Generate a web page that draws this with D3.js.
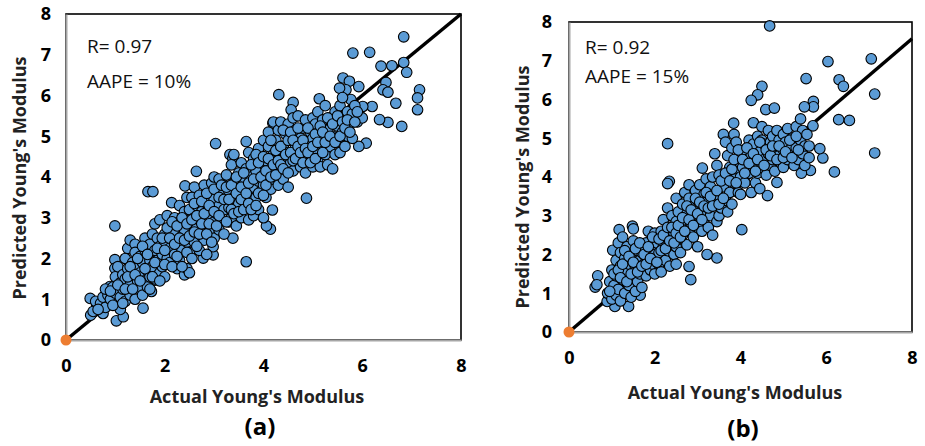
<!DOCTYPE html>
<html>
  <head>
    <meta charset="utf-8">
    <title>Young's Modulus</title>
    <script type="text/javascript" src="https://cdn.jsdelivr.net/npm/d3@7"></script>
    <style media="screen">
      body { margin: 0; background: #fff; }
      text { font-family: "Open Sans", "Noto Sans", sans-serif; }
      .tick-label { font-weight: bold; font-size: 18px; fill: #000; }
      .title { font-weight: bold; font-size: 18px; fill: #222; }
      .panel-label { font-weight: bold; font-size: 24px; fill: #000; }
      .note { font-size: 19px; fill: #111; }
    </style>
  </head>
  <body>

    <script type="text/javascript">

      var w = 925;
      var h = 446;

      var yTicks = [0, 1, 2, 3, 4, 5, 6, 7, 8];
      var xTicks = [0, 2, 4, 6, 8];
      var xTitle = "Actual Young's Modulus";
      var yTitle = "Predicted Young's Modulus";
      var panelNames = ["(a)", "(b)"];
      var rValues = ["R= 0.97", "R= 0.92"];
      var aapeValues = ["AAPE = 10%", "AAPE = 15%"];
      // slope of the black trend line in each panel
      var fitSlope = [1.0, 0.946];

      // panel (a): actual, predicted
      var pointsA = [
        [6.84,7.44],[5.81,7.04],[6.15,7.06],[6.38,6.72],[6.60,6.73],[6.84,6.81],[6.90,6.57],[7.16,6.14],[7.12,5.94],[7.12,5.65],
        [6.68,5.81],[6.80,5.24],[6.52,5.34],[6.35,5.41],[6.48,6.32],[6.42,6.14],[6.52,6.08],[5.93,6.22],[6.20,5.73],[6.01,5.73],
        [6.08,4.83],[5.93,4.75],[5.61,6.43],[5.74,6.35],[5.67,6.14],[5.77,5.90],[5.54,6.18],[5.13,5.92],[4.31,6.02],[4.60,5.83],
        [4.56,5.65],[3.03,4.82],[3.65,4.87],[4.19,5.32],[4.12,4.91],[4.87,3.48],[3.65,1.92],[2.64,4.14],[1.66,3.64],[1.76,3.64],
        [0.99,2.80],[2.14,3.37],[2.41,3.78],[4.14,2.72],[4.18,3.19],[4.06,2.80],[3.38,2.50],[0.49,1.02],[0.50,0.61],[0.62,0.86],
        [0.75,0.65],[1.02,0.47],[1.16,0.57],[1.56,0.78],[0.99,1.97],[0.99,1.76],[0.89,1.31],[1.73,1.19],[1.80,1.47],[2.78,2.01],
        [2.98,2.09],[2.98,2.29],[3.32,4.55],[3.38,4.46],
        [0.55,0.70],[0.60,0.95],[0.70,0.90],[0.75,1.05],[0.80,0.80],[0.85,1.10],[0.80,1.25],
        [0.90,1.00],[0.95,1.30],[1.00,1.15],[1.00,1.55],[1.05,1.80],[1.05,0.90],[1.10,1.40],[1.10,0.75],[1.10,1.05],[1.15,1.60],[1.15,1.25],
        [1.20,1.50],[1.20,2.00],[1.20,0.95],[1.25,1.75],[1.25,2.25],[1.30,1.35],[1.30,2.45],[1.30,1.10],[1.35,1.90],[1.35,1.60],[1.40,2.35],[1.40,1.00],[1.40,2.15],[1.45,1.45],[1.45,1.80],
        [1.50,1.25],[1.50,2.05],[1.50,1.65],[1.55,1.90],[1.55,1.10],[1.60,2.20],[1.60,1.45],[1.60,2.50],[1.65,1.70],[1.65,1.30],[1.70,1.95],[1.70,2.35],[1.70,1.55],[1.75,2.60],[1.75,1.80],
        [1.80,1.50],[1.80,2.20],[1.80,2.85],[1.85,1.95],[1.85,2.50],[1.90,1.65],[1.90,2.30],[1.90,2.95],[1.95,2.10],[1.95,1.80],[2.00,2.60],[2.00,2.40],[2.00,1.55],[2.05,2.00],[2.05,3.05],[2.10,2.25],[2.10,1.90],[2.10,2.75],
        [2.15,2.50],[2.20,2.10],[2.20,3.00],[2.20,2.60],[2.25,1.75],[2.25,2.35],[2.30,2.90],[2.30,3.30],[2.30,1.95],[2.35,2.55],[2.35,2.20],[2.40,3.15],[2.40,2.70],[2.40,1.60],[2.45,2.40],[2.45,3.50],[2.45,1.75],[2.50,2.90],[2.50,2.15],[2.50,1.65],[2.50,3.20],
        [2.55,2.60],[2.55,3.50],[2.60,2.40],[2.60,3.00],[2.60,3.75],[2.65,2.75],[2.65,3.30],[2.70,2.20],[2.70,2.95],[2.70,3.55],[2.75,2.55],[2.75,3.15],[2.80,3.80],[2.80,2.85],[2.80,2.45],[2.85,3.35],[2.85,2.10],[2.90,3.00],[2.90,3.60],[2.90,2.65],[2.95,3.85],[2.95,3.20],[3.00,2.50],[3.00,3.45],[3.00,2.90],[3.00,4.00],
        [3.05,3.10],[3.05,3.70],[3.10,2.70],[3.10,3.30],[3.10,3.95],[3.15,2.95],[3.15,3.55],[3.20,3.80],[3.20,3.20],[3.20,2.60],[3.25,3.45],[3.25,4.05],[3.30,2.90],[3.30,3.65],[3.30,3.25],[3.35,4.30],[3.35,3.00],[3.40,3.50],[3.40,3.85],[3.40,4.55],[3.45,3.20],[3.45,2.80],[3.50,3.70],[3.50,4.10],[3.50,3.35],
        [3.55,3.00],[3.55,4.35],[3.60,3.55],[3.60,3.85],[3.65,3.25],[3.65,4.20],[3.70,2.95],[3.70,3.60],[3.70,4.60],[3.75,4.00],[3.75,3.40],[3.80,3.75],[3.80,4.45],[3.80,3.05],[3.85,4.15],[3.85,3.50],[3.90,4.70],[3.90,3.90],[3.90,3.20],[3.95,4.35],[3.95,3.65],[4.00,4.05],[4.00,3.00],[4.00,4.90],[4.00,3.80],
        [4.05,4.40],[4.05,3.50],[4.10,4.75],[4.10,3.95],[4.10,5.10],[4.15,4.20],[4.15,3.70],[4.20,4.55],[4.20,5.35],[4.20,3.95],[4.25,4.90],[4.25,4.30],[4.30,3.80],[4.30,5.15],[4.30,4.60],[4.35,4.10],[4.35,5.35],[4.40,4.75],[4.40,4.40],[4.40,3.95],[4.45,5.05],[4.45,4.20],[4.50,4.60],[4.50,5.30],[4.50,3.75],
        [4.55,4.90],[4.55,4.35],[4.60,5.45],[4.60,4.15],[4.65,4.75],[4.65,5.15],[4.70,4.50],[4.70,5.50],[4.75,4.25],[4.75,4.95],[4.80,5.20],[4.80,4.60],[4.85,4.10],[4.85,5.40],[4.90,4.85],[4.90,4.40],[4.95,5.10],[4.95,4.65],[5.00,5.45],[5.00,4.25],[5.00,4.95],
        [5.05,4.70],[5.05,5.30],[5.10,5.60],[5.10,4.45],[5.15,5.00],[5.15,4.25],[5.20,5.40],[5.20,4.80],[5.25,5.75],[5.25,4.55],[5.30,5.15],[5.30,4.30],[5.35,5.45],[5.35,4.75],[5.40,5.00],[5.40,4.20],[5.45,5.60],[5.45,4.55],[5.50,5.25],[5.50,4.85],
        [5.55,5.75],[5.55,4.60],[5.60,5.10],[5.60,5.95],[5.65,5.40],[5.65,4.75],[5.70,5.60],[5.70,5.00],[5.75,5.30],[5.80,5.55],[5.80,4.95],[5.85,5.75],[5.90,5.35],[5.95,5.50],[6.00,5.45],
        [0.65,0.75],[0.90,1.20],[0.95,0.85],[1.05,1.35],[1.15,0.90],[1.20,1.25],[1.25,1.55],[1.30,1.80],[1.35,1.25],[1.40,1.60],[1.45,2.00],[1.50,1.45],[1.55,2.30],[1.60,1.75],[1.65,2.10],[1.70,1.25],[1.75,1.55],[1.80,1.90],[1.85,2.25],[1.90,1.45],
        [1.95,2.50],[2.00,1.85],[2.00,2.20],[2.05,2.75],[2.10,2.50],[2.15,1.80],[2.15,2.90],[2.20,2.35],[2.25,2.05],[2.25,2.80],[2.30,2.50],[2.35,3.00],[2.35,1.80],[2.40,2.45],[2.45,2.15],[2.45,2.85],[2.50,2.55],[2.55,2.00],[2.55,2.95],[2.60,3.35],
        [2.60,2.65],[2.65,2.30],[2.65,3.05],[2.70,2.60],[2.75,3.40],[2.75,2.85],[2.80,3.10],[2.85,2.60],[2.85,3.60],[2.90,2.85],[2.90,3.30],[2.95,2.40],[3.00,3.15],[3.00,3.70],[3.05,2.80],[3.10,3.50],[3.10,3.05],[3.15,3.80],[3.20,3.45],[3.25,2.90],
        [3.25,3.75],[3.30,3.45],[3.35,3.20],[3.35,3.80],[3.40,3.10],[3.45,3.60],[3.45,4.00],[3.50,3.15],[3.55,3.75],[3.55,3.45],[3.60,4.10],[3.60,3.20],[3.65,3.60],[3.70,3.85],[3.70,3.35],[3.75,4.30],[3.75,3.20],[3.80,3.95],[3.85,3.30],[3.85,4.55],
        [3.90,3.60],[3.90,4.35],[3.95,4.00],[4.00,3.55],[4.00,4.50],[4.05,4.15],[4.05,3.80],[4.10,4.45],[4.15,4.00],[4.15,4.90],[4.20,4.30],[4.25,4.65],[4.25,4.05],[4.30,4.40],[4.35,4.75],[4.35,4.30],[4.40,4.20],[4.40,5.15],[4.45,4.55],[4.50,4.10],
        [4.50,4.90],[4.55,4.60],[4.55,5.10],[4.60,4.40],[4.60,4.90],[4.65,4.45],[4.70,4.75],[4.70,5.20],[4.75,4.60],[4.80,4.35],[4.80,4.90],[4.85,4.70],[4.90,5.20],[4.90,4.60],[4.95,4.35],[5.00,4.75],[5.05,5.05],[5.05,4.45],[5.10,4.85],[5.15,5.25],
        [5.20,4.60],[5.20,5.10],[5.25,4.85],[5.30,5.45],[5.35,5.00],[5.40,5.30],[5.45,4.85],[5.50,5.50],[5.55,5.00],[5.60,5.35],[5.65,5.20],[5.70,5.40],[5.75,5.10],[5.85,5.35],[5.90,5.60]
      ];

      // panel (b): actual, predicted
      var pointsB = [
        [4.68,7.90],[6.04,6.98],[7.05,7.05],[6.30,6.51],[6.40,6.34],[5.53,6.54],[7.13,6.14],[7.13,4.62],[6.29,5.48],[6.54,5.46],
        [6.19,4.13],[5.92,4.49],[5.85,4.73],[5.69,5.32],[5.70,5.95],[5.70,5.81],[5.49,5.81],[4.50,6.34],[4.40,6.12],[4.25,5.98],
        [4.59,5.74],[4.79,5.78],[3.84,5.39],[2.30,4.86],[2.34,3.89],[2.30,3.83],[3.11,4.23],[4.03,2.64],[3.45,1.91],[3.22,2.00],
        [2.84,1.35],[2.80,1.69],[4.63,3.52],[4.85,3.86],[0.67,1.45],[0.61,1.16],[0.65,1.22],[1.17,2.64],[1.48,2.73],[1.50,2.66],
        [1.02,2.11],[1.07,0.66],[1.39,0.66],[0.89,0.79],[1.66,0.95],[5.63,4.17],[5.42,4.10],
        [0.90,1.00],[0.95,1.30],[1.00,1.60],[1.00,0.85],[1.05,1.20],[1.10,1.85],[1.10,1.45],[1.10,0.95],[1.15,2.30],[1.15,1.10],[1.20,1.70],[1.20,0.80],[1.20,2.05],
        [1.25,1.35],[1.25,2.45],[1.30,1.00],[1.30,1.90],[1.35,1.55],[1.35,2.20],[1.40,1.20],[1.40,1.75],[1.45,2.00],[1.45,0.90],[1.50,1.40],[1.50,2.35],[1.55,1.65],[1.55,1.05],[1.60,2.10],[1.60,1.30],
        [1.65,1.85],[1.65,1.50],[1.70,2.05],[1.70,1.15],[1.75,1.75],[1.80,1.45],[1.80,2.30],[1.85,2.60],[1.85,1.95],[1.90,1.60],[1.95,2.25],[1.95,1.75],[2.00,1.50],[2.00,2.55],[2.00,2.00],
        [2.05,2.30],[2.10,1.75],[2.10,2.05],[2.15,2.60],[2.15,1.55],[2.20,2.90],[2.20,2.20],[2.25,1.85],[2.25,2.45],[2.30,3.20],[2.30,2.10],[2.35,2.70],[2.35,1.70],[2.40,2.35],[2.40,3.00],[2.45,2.00],[2.45,2.55],[2.50,3.45],[2.50,2.20],[2.50,2.85],[2.50,1.75],
        [2.55,2.40],[2.55,3.10],[2.60,2.70],[2.60,2.05],[2.65,3.30],[2.65,2.50],[2.70,2.90],[2.70,3.60],[2.75,2.25],[2.75,3.05],[2.80,2.60],[2.80,3.45],[2.80,3.80],[2.85,2.80],[2.90,3.25],[2.90,2.45],[2.95,3.10],[2.95,3.65],[3.00,2.70],[3.00,3.40],[3.00,2.20],
        [3.05,3.00],[3.05,3.80],[3.10,2.60],[3.10,3.30],[3.15,3.55],[3.15,2.90],[3.20,3.10],[3.20,3.95],[3.25,2.70],[3.25,3.45],[3.30,3.75],[3.30,3.00],[3.35,2.50],[3.35,4.00],[3.40,3.30],[3.40,3.55],[3.40,4.60],[3.45,2.85],[3.45,4.30],[3.50,3.50],[3.50,3.00],[3.50,4.05],
        [3.55,3.20],[3.60,3.75],[3.60,5.10],[3.65,3.40],[3.65,4.90],[3.70,3.95],[3.70,3.10],[3.70,4.55],[3.75,3.60],[3.75,4.25],[3.80,3.30],[3.80,4.75],[3.85,3.85],[3.85,5.10],[3.90,4.10],[3.90,4.90],[3.95,3.60],[3.95,4.35],[4.00,4.00],[4.00,4.60],[4.00,3.55],
        [4.05,4.25],[4.10,4.70],[4.10,3.85],[4.15,4.45],[4.20,4.10],[4.20,4.95],[4.25,3.60],[4.25,4.55],[4.30,4.25],[4.30,5.40],[4.30,4.85],[4.35,3.85],[4.35,4.40],[4.40,4.10],[4.40,5.05],[4.45,4.65],[4.45,3.70],[4.50,4.25],[4.50,4.95],[4.50,5.30],
        [4.55,4.45],[4.55,4.85],[4.60,4.05],[4.65,4.60],[4.65,5.20],[4.70,4.30],[4.70,4.90],[4.75,5.05],[4.75,4.45],[4.80,4.70],[4.80,4.15],[4.85,5.20],[4.90,4.55],[4.90,4.95],[4.95,4.35],[5.00,5.10],[5.00,4.70],[5.00,4.25],
        [5.05,4.90],[5.10,5.25],[5.10,4.45],[5.15,4.70],[5.20,5.00],[5.25,4.30],[5.30,5.30],[5.30,4.75],[5.35,4.45],[5.40,5.50],[5.40,4.95],[5.45,4.60],[5.45,5.20],[5.50,4.80],[5.50,4.30],
        [5.55,5.10],[5.60,4.50],[5.60,4.80],
        [0.95,1.05],[1.05,1.50],[1.15,1.60],[1.20,1.40],[1.25,1.75],[1.30,2.10],[1.35,1.30],[1.40,1.95],[1.45,1.50],[1.50,1.80],[1.55,2.15],[1.60,1.55],[1.65,2.30],[1.70,1.70],[1.75,2.00],[1.80,1.75],[1.85,2.20],[1.90,1.90],[1.95,2.45],[2.05,1.80],
        [2.10,2.40],[2.15,2.10],[2.20,2.50],[2.25,2.15],[2.30,2.70],[2.35,2.35],[2.40,2.70],[2.45,2.30],[2.50,2.55],[2.55,2.75],[2.60,2.45],[2.65,2.95],[2.70,2.60],[2.75,3.25],[2.80,2.90],[2.85,3.15],[2.90,2.75],[2.95,3.45],[3.00,3.05],[3.05,3.35],
        [3.10,2.90],[3.15,3.25],[3.20,3.60],[3.25,3.20],[3.30,3.50],[3.35,3.25],[3.45,3.65],[3.50,3.30],[3.55,3.90],[3.60,3.45],[3.65,4.10],[3.75,3.90],[3.80,4.20],[3.85,4.45],[3.90,3.85],[3.95,4.70],[4.05,4.45],[4.10,4.10],[4.15,4.75],[4.20,4.35],
        [4.30,4.60],[4.35,4.15],[4.40,4.45],[4.45,4.90],[4.55,4.30],[4.60,4.70],[4.70,4.55],[4.75,4.80],[4.85,4.45],[4.90,4.80],[5.00,4.50],[5.05,4.65],[5.15,4.95],[5.20,4.50],[5.30,5.05],[5.35,4.70]
      ];

      var panels = [
        { data: pointsA, left: 66, right: 461, top: 14, bottom: 340, yPad: 15,
          yTitleX: 26, yTitleY: 178, xTitleX: 257, xTitleY: 403,
          nameX: 260, nameY: 435, noteX: 87, noteY: 53, noteGap: 35 },
        { data: pointsB, left: 569, right: 912, top: 22, bottom: 332, yPad: 17,
          yTitleX: 529, yTitleY: 187, xTitleX: 735, xTitleY: 399,
          nameX: 743, nameY: 437, noteX: 585, noteY: 54, noteGap: 29 }
      ];

      var svg = d3.select('body')
        .append('svg')
        .attr('width', w)
        .attr('height', h);

      panels.forEach(function(p, i) {

        var xscale = d3.scaleLinear()
          .domain([0, 8])
          .range([p.left, p.right]);

        var yscale = d3.scaleLinear()
          .domain([0, 8])
          .range([p.bottom, p.top]);

        var g = svg.append('g');

        // plot area border, top and right in black
        g.append('rect')
          .attr('x', p.left)
          .attr('y', p.top)
          .attr('width', p.right - p.left)
          .attr('height', p.bottom - p.top)
          .attr('fill', 'none')
          .attr('stroke', '#000')
          .attr('stroke-width', 1.6);

        // axis lines in grey
        var yAxis = d3.axisLeft(yscale).tickValues(yTicks).tickSize(0).tickPadding(p.yPad);
        var xAxis = d3.axisBottom(xscale).tickValues(xTicks).tickSize(0).tickPadding(19);

        var ya = g.append('g')
          .attr('transform', 'translate(' + p.left + ',0)')
          .call(yAxis);
        var xa = g.append('g')
          .attr('transform', 'translate(0,' + p.bottom + ')')
          .call(xAxis);

        [ya, xa].forEach(function(a) {
          a.select('.domain').attr('stroke', '#a6a6a6').attr('stroke-width', 2);
          a.selectAll('text').attr('class', 'tick-label').attr('font-family', null).attr('font-size', null);
        });

        // trend line
        g.append('line')
          .attr('x1', xscale(0))
          .attr('y1', yscale(0))
          .attr('x2', xscale(8))
          .attr('y2', yscale(8 * fitSlope[i]))
          .attr('stroke', '#000')
          .attr('stroke-width', 3.5);

        g.selectAll('circle.pt')
          .data(p.data)
          .enter()
          .append('circle')
          .attr('class', 'pt')
          .attr('cx', function(d) { return xscale(d[0]); })
          .attr('cy', function(d) { return yscale(d[1]); })
          .attr('r', 5.3)
          .attr('fill', '#5b9bd5')
          .attr('stroke', '#000')
          .attr('stroke-width', 1.1);

        // orange point at the origin
        g.append('circle')
          .attr('cx', xscale(0))
          .attr('cy', yscale(0))
          .attr('r', 5.5)
          .attr('fill', '#ed7d31');

        g.append('text')
          .attr('class', 'note')
          .attr('x', p.noteX)
          .attr('y', p.noteY)
          .text(rValues[i]);

        g.append('text')
          .attr('class', 'note')
          .attr('x', p.noteX)
          .attr('y', p.noteY + p.noteGap)
          .text(aapeValues[i]);

        g.append('text')
          .attr('class', 'title')
          .attr('text-anchor', 'middle')
          .attr('x', p.xTitleX)
          .attr('y', p.xTitleY)
          .text(xTitle);

        g.append('text')
          .attr('class', 'title')
          .attr('text-anchor', 'middle')
          .attr('transform', 'translate(' + p.yTitleX + ',' + p.yTitleY + ')rotate(-90)')
          .text(yTitle);

        g.append('text')
          .attr('class', 'panel-label')
          .attr('text-anchor', 'middle')
          .attr('x', p.nameX)
          .attr('y', p.nameY)
          .text(panelNames[i]);
      });

    </script>

  </body>
</html>
